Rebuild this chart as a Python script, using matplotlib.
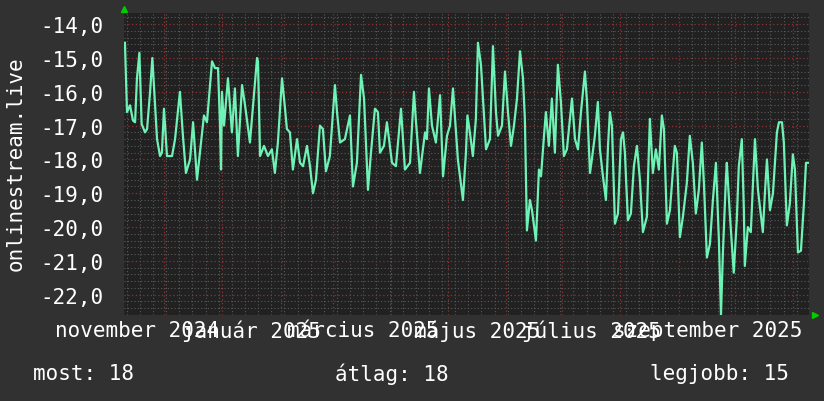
import datetime as dt
import matplotlib
matplotlib.use('Agg')
import matplotlib.pyplot as plt
import matplotlib.dates as mdates
from matplotlib.ticker import MultipleLocator, FuncFormatter
from matplotlib.transforms import blended_transform_factory, offset_copy

# Adatok (napok a kezdettől, érték)
start = dt.datetime(2024, 11, 9, 12, 40)
span_days = 365

day_offset = [
    0.5, 1.6, 3.2, 4.8, 5.9, 6.9, 8.2, 9.4, 11.2, 12.3, 13.9, 15.1, 17.6, 19.2, 20.2,
    21.3, 22.9, 25.6, 27.2, 29.8, 31.4, 33.0, 35.2, 36.8, 38.9, 41.4, 42.6, 44.2, 46.9,
    48.5, 50.1, 51.1, 51.7, 52.2, 53.3, 55.4, 57.5, 59.1, 60.7, 62.9, 64.5, 67.1, 70.9,
    71.4, 72.5, 74.6, 76.7, 78.8, 80.4, 82.0, 84.2, 85.8, 86.8, 88.4, 90.0, 92.2, 93.8,
    95.4, 97.5, 99.1, 100.7, 102.3, 104.4, 106.0, 107.6, 109.7, 112.4, 113.5, 115.1,
    117.7, 120.4, 122.0, 124.1, 126.3, 127.9, 130.0, 131.6, 133.7, 135.3, 136.4, 138.5,
    140.1, 142.8, 144.9, 147.6, 149.7, 152.4, 154.5, 155.6, 157.7, 160.4, 161.4, 162.5,
    164.1, 166.2, 168.4, 170.0, 172.1, 173.7, 175.3, 177.9, 180.6, 182.2, 183.0, 184.3,
    185.9, 187.5, 188.6, 190.2, 191.3, 192.9, 195.0, 196.6, 198.2, 199.3, 201.4, 203.0,
    204.6, 206.2, 207.8, 209.4, 211.0, 212.6, 213.6, 214.7, 216.3, 217.4, 219.5, 221.1,
    222.2, 223.8, 224.8, 226.4, 228.0, 229.6, 231.2, 232.8, 234.4, 236.0, 238.7, 240.3,
    241.9, 243.5, 245.6, 246.7, 248.3, 249.3, 250.9, 252.5, 253.6, 255.2, 256.8, 257.9,
    258.9, 260.0, 261.6, 263.2, 264.8, 265.9, 266.9, 268.5, 270.1, 271.7, 273.3, 274.9,
    276.5, 278.6, 280.2, 281.8, 283.4, 285.0, 286.6, 287.7, 289.3, 290.9, 293.5, 294.6,
    296.2, 297.8, 299.9, 301.5, 303.1, 304.7, 306.3, 307.9, 309.0, 310.6, 312.2, 313.8,
    315.4, 317.0, 318.1, 319.1, 320.7, 321.2, 322.8, 324.9, 326.5, 327.6, 329.2, 330.3,
    330.8, 332.4, 334.0, 335.1, 336.2, 337.8, 340.4, 341.5, 342.6, 344.2, 345.8, 347.9,
    349.0, 350.6, 351.6, 353.2, 354.8, 356.4, 357.5, 359.1, 360.7, 362.3, 363.4, 364.4,
]
values = [
    -14.55, -16.6, -16.4, -16.85, -16.9, -15.6, -14.85, -16.95, -17.2, -17.1, -16.0, -15.0, -17.4, -17.9, -17.8,
    -16.5, -17.9, -17.9, -17.4, -16.0, -17.3, -18.4, -18.0, -16.9, -18.6, -17.3, -16.7, -16.9, -15.1,
    -15.3, -15.3, -16.9, -18.3, -16.0, -17.0, -15.6, -17.2, -15.9, -17.9, -15.8, -16.4, -17.5, -15.0,
    -15.1, -17.9, -17.6, -17.9, -17.7, -18.4, -17.5, -15.6, -16.5, -17.1, -17.2, -18.3, -17.4, -18.1,
    -18.2, -17.6, -18.2, -19.0, -18.6, -17.0, -17.1, -18.35, -17.9, -15.8, -16.6, -17.5,
    -17.4, -16.7, -18.8, -18.1, -15.5, -16.2, -18.9, -17.8, -16.5, -16.6, -17.8, -17.6,
    -16.9, -18.1, -18.2, -16.5, -18.3, -18.1, -16.0, -16.9, -18.4, -17.2, -17.4, -15.9,
    -17.0, -17.5, -16.1, -18.5, -17.3, -17.0, -15.9, -18.0, -19.2, -17.8, -16.7, -17.2,
    -17.9, -16.8, -14.55, -15.2, -16.2, -17.7, -17.4, -14.65, -16.6, -17.3, -17.0, -15.4,
    -16.6, -17.6, -17.0, -16.2, -14.8, -15.6, -16.8, -20.1, -19.2, -19.5, -20.4, -18.3,
    -18.5, -17.3, -16.6, -17.6, -16.2, -17.8, -15.2, -16.3, -17.9, -17.7, -16.2, -17.4,
    -17.7, -16.6, -15.4, -16.3, -18.4, -18.0, -17.3, -16.3, -17.7, -18.5, -19.2, -17.6,
    -16.6, -17.0, -19.9, -19.6, -17.4, -17.2, -17.8, -19.8, -19.6, -18.2, -17.6, -18.6,
    -20.15, -19.7, -16.8, -18.4, -17.7, -18.3, -16.7, -17.1, -19.9, -19.5, -17.6, -17.8,
    -20.3, -19.7, -18.7, -17.3, -18.1, -19.6, -18.9, -17.5, -18.7, -20.9, -20.5, -19.2,
    -18.1, -20.4, -22.6, -20.8, -18.6, -18.1, -19.6, -21.35, -19.8, -18.2, -17.4, -19.5,
    -21.15, -20.0, -20.15, -18.8, -17.4, -18.9, -20.15, -19.0, -18.0, -19.5, -19.0, -17.2,
    -16.9, -16.9, -17.5, -19.95, -19.3, -17.85, -18.3, -20.75, -20.7, -19.3, -18.1, -18.1,
]

label_months = [(2024, 11), (2025, 1), (2025, 3), (2025, 5), (2025, 7), (2025, 9)]
month_labels = ['november 2024', 'január 2025', 'március 2025',
                'május 2025', 'július 2025', 'szeptember 2025']
ylabel = 'onlinestream.live'
legend_items = [('most', 18), ('átlag', 18), ('legjobb', 15)]

plt.rcParams['font.family'] = ['DejaVu Sans Mono']
FS = 15

fig = plt.figure(figsize=(8.24, 4.02), dpi=100, facecolor='#313131')
ax = fig.add_axes([124 / 824, 86 / 402, 685 / 824, 302 / 402])
ax.set_facecolor('#212121')

times = [start + dt.timedelta(days=d) for d in day_offset]
ax.plot(times, values, color='#6ef2b5', lw=1.6, zorder=3)

ax.set_xlim(start, start + dt.timedelta(days=span_days))
ax.set_ylim(-22.6, -13.67)

month_starts = [dt.datetime(2024 + (10 + i) // 12, (10 + i) % 12 + 1, 1) for i in range(1, 13)]
ax.set_xticks(month_starts)
ax.xaxis.set_minor_locator(mdates.WeekdayLocator(byweekday=mdates.MO))
ax.yaxis.set_major_locator(MultipleLocator(1))
ax.yaxis.set_minor_locator(MultipleLocator(0.2))
ax.yaxis.set_major_formatter(FuncFormatter(lambda v, p: f'{v:.1f}'.replace('.', ',')))

ax.set_axisbelow(True)
ax.grid(which='minor', color='#5a5a5a', ls=(0, (1, 2)), lw=0.8)
ax.grid(which='major', color='#8a3434', ls=(0, (1, 2)), lw=0.9)
ax.tick_params(which='both', length=0)
ax.tick_params(axis='y', labelcolor='white', labelsize=FS, pad=15)
ax.tick_params(axis='x', labelbottom=False)
for s in ax.spines.values():
    s.set_visible(False)

# Hónapcímkék a hónap közepére igazítva
tr = blended_transform_factory(ax.transData, ax.transAxes)
for (y, m), lab in zip(label_months, month_labels):
    xc = dt.datetime(y, m, 1) + dt.timedelta(days=15.5)
    ax.text(mdates.date2num(xc), -0.05, lab, transform=tr, ha='center', va='center',
            color='white', fontsize=FS, clip_on=False)

fig.text(16 / 824, 1 - 164 / 402, ylabel, rotation=90, ha='center', va='center',
         color='white', fontsize=FS)

for xpix, (name, val) in zip([33, 335, 650], legend_items):
    fig.text(xpix / 824, 1 - 374 / 402, f'{name}: {val}', ha='left', va='center',
             color='white', fontsize=FS)

# Zöld nyilak a tengelyek végén
ax.plot([0], [1], marker='^', color='#00cc00', ms=5, clip_on=False,
        transform=offset_copy(ax.transAxes, fig, x=0, y=4, units='dots'))
ax.plot([1], [0], marker='>', color='#00cc00', ms=5, clip_on=False,
        transform=offset_copy(ax.transAxes, fig, x=6, y=0, units='dots'))

fig.savefig('out.png', dpi=100, facecolor=fig.get_facecolor())
